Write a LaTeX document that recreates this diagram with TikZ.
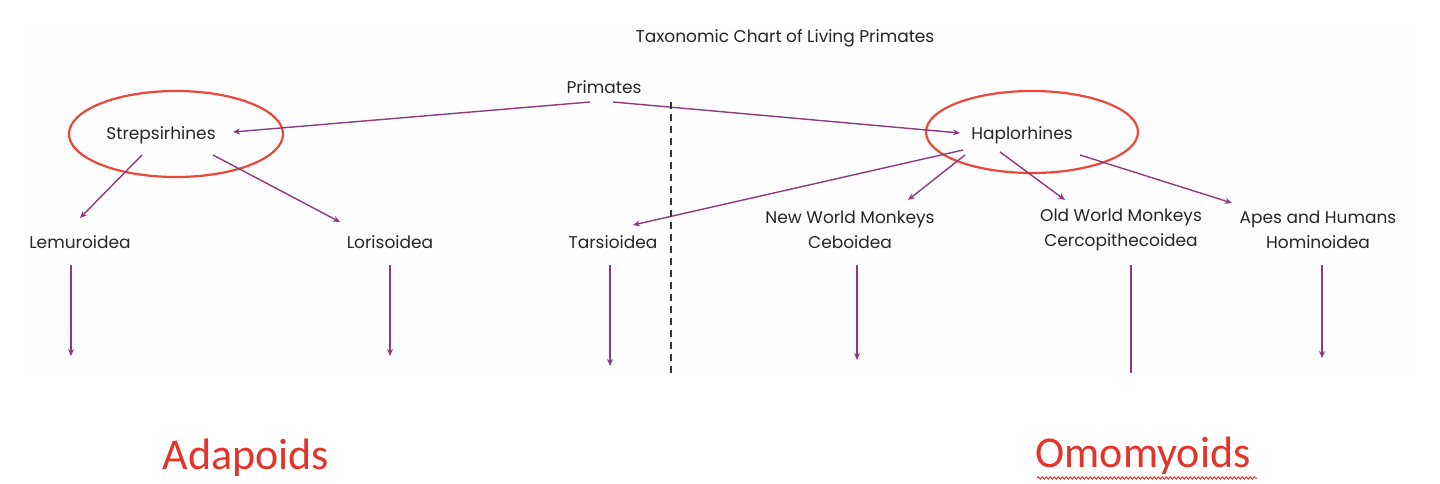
\documentclass[tikz,border=0pt]{standalone}
\usepackage{fontspec}
\setmainfont{Poppins}
\newfontfamily\redfont{Carlito}
\usetikzlibrary{arrows.meta,decorations.pathmorphing}
\definecolor{arr}{HTML}{8E3B7E}
\definecolor{ovl}{HTML}{E8493A}
\definecolor{lbl}{HTML}{E5332A}
\begin{document}
\begin{tikzpicture}[x=1pt,y=-1pt,
  txt/.style={font=\fontsize{17}{25}\selectfont, text=black!85, inner sep=1pt, align=center},
  conn/.style={draw=arr, line width=1.4pt, -{Stealth[length=7pt,width=6pt]}},
  plain/.style={draw=arr, line width=1.4pt},
  ring/.style={draw=ovl, line width=2.2pt},
  big/.style={font=\redfont\fontsize{44}{48}\selectfont, text=lbl}]
\useasboundingbox (0,0) rectangle (1440,483);
\fill[black!0.8] (25,27) rectangle (1415,375);
\node[txt,font=\fontsize{17}{20}\selectfont] (title) at (785,38) {Taxonomic Chart of Living Primates};
\node[txt] (prim) at (604,87) {Primates};
\node[txt] (strep) at (161,135) {Strepsirhines};
\node[txt] (hapl) at (1022,135) {Haplorhines};
\node[txt] (lemur) at (80,242) {Lemuroidea};
\node[txt] (loris) at (390,242) {Lorisoidea};
\node[txt] (tarsi) at (613,242) {Tarsioidea};
\node[txt] (nwm) at (850,230) {New World Monkeys\\Ceboidea};
\node[txt] (owm) at (1121,230) {Old World Monkeys\\Cercopithecoidea};
\node[txt] (apes) at (1318,230) {Apes and Humans\\Hominoidea};
\draw[ring] (176,134) ellipse [x radius=107, y radius=43];
\draw[ring] (1032,132) ellipse [x radius=106, y radius=41];
\coordinate (p1) at (590,102); \coordinate (p2) at (613,102);
\draw[conn] (p1) -- (233,132);
\draw[conn] (p2) -- (960,133);
\draw[conn] (142,155) -- (80,218);
\draw[conn] (213,155) -- (340,222);
\draw[conn] (963,150) -- (633,225);
\draw[conn] (965,155) -- (908,200);
\draw[conn] (1000,152) -- (1065,200);
\draw[conn] (1080,155) -- (1232,203);
\coordinate (e1) at (71,356); \coordinate (e2) at (390,356); \coordinate (e3) at (610,366);
\coordinate (e4) at (857,360); \coordinate (e5) at (1131,373); \coordinate (e6) at (1322,358);
\draw[conn] (71,265) -- (e1);
\draw[conn] (390,265) -- (e2);
\draw[conn] (610,265) -- (e3);
\draw[conn] (857,265) -- (e4);
\draw[plain] (1131,265) -- (e5);
\draw[conn] (1322,265) -- (e6);
\draw[black!80, line width=1.2pt, dash pattern=on 7pt off 5pt] (671,102) -- (671,375);
\node[big] (ada) at (246,458) {Adapoids};
\node[big] (omo) at (1143,456) {Omomyoids};
\draw[lbl, line width=1pt, decorate, decoration={snake, amplitude=1.2pt, segment length=4pt}] (1037,478) -- (1257,478);
\end{tikzpicture}
\end{document}
